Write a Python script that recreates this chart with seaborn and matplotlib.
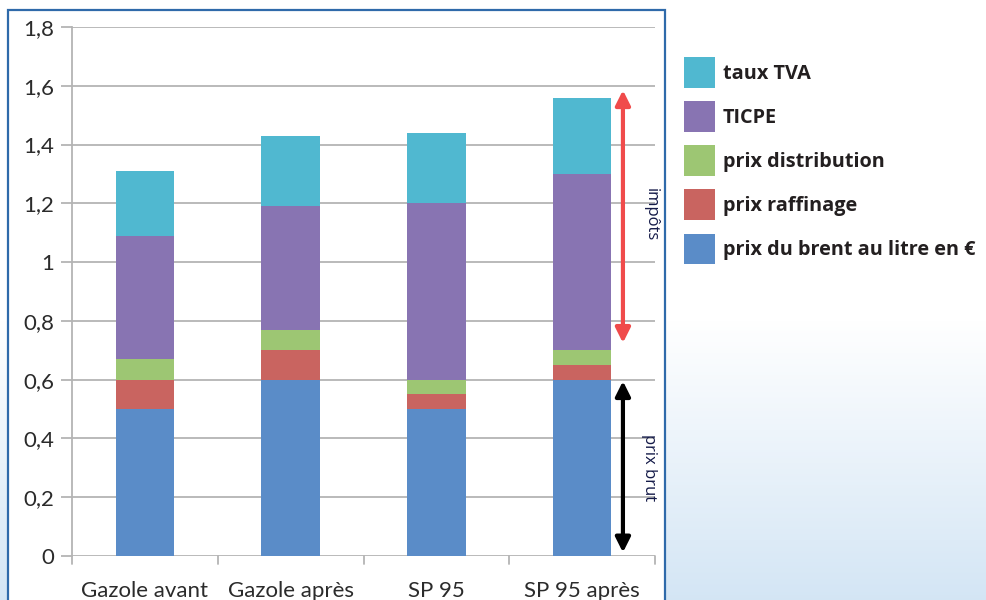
import numpy as np
import pandas as pd
import matplotlib
matplotlib.use("Agg")
import matplotlib.pyplot as plt
import seaborn as sns
from matplotlib.patches import Rectangle, Patch

categories = ["Gazole avant", "Gazole après", "SP 95", "SP 95 après"]
brent = [0.50, 0.60, 0.50, 0.60]
raffinage = [0.10, 0.10, 0.05, 0.05]
distribution = [0.07, 0.07, 0.05, 0.05]
ticpe = [0.42, 0.42, 0.60, 0.60]
tva = [0.22, 0.24, 0.24, 0.26]

series_names = ["prix du brent au litre en €", "prix raffinage", "prix distribution", "TICPE", "taux TVA"]
series_vals = [brent, raffinage, distribution, ticpe, tva]
colors = ["#5a8cc8", "#c96460", "#9dc673", "#8874b2", "#50b8d0"]
y_ticks = [0, 0.2, 0.4, 0.6, 0.8, 1.0, 1.2, 1.4, 1.6, 1.8]
y_labels = ["0", "0,2", "0,4", "0,6", "0,8", "1", "1,2", "1,4", "1,6", "1,8"]

sns.set_theme(style="white")
plt.rcParams["font.family"] = ["Lato", "DejaVu Sans"]

W, H = 986, 600
fig = plt.figure(figsize=(W / 100, H / 100), dpi=100)

# background gradient
bg = fig.add_axes([0, 0, 1, 1], zorder=-10)
grad = np.ones((H, 1, 3))
top = np.array([1.0, 1.0, 1.0])
bot = np.array([0.83, 0.90, 0.96])
for i in range(H):
    t = max(0.0, (i - 320) / (H - 320))
    grad[i, 0] = top * (1 - t) + bot * t
bg.imshow(grad, aspect="auto", extent=[0, 1, 0, 1], origin="upper")
bg.set_axis_off()
bg.add_patch(Rectangle((8 / W, -0.05), (665 - 8) / W, 1 - 10 / H + 0.05,
                       transform=bg.transAxes, facecolor="white", edgecolor="#2f6aaa", lw=1.6))

ax = fig.add_axes([72 / W, 1 - 556 / H, (655 - 72) / W, (556 - 27) / H])
ax.set_facecolor("none")

cum = np.zeros(len(categories))
cums = []
for v in series_vals:
    cum = cum + np.array(v)
    cums.append(cum.copy())
# draw tallest first so lower layers overlay
for name, c, col in reversed(list(zip(series_names, cums, colors))):
    d = pd.DataFrame({"cat": categories, "val": c})
    sns.barplot(data=d, x="cat", y="val", color=col, width=0.4, ax=ax,
                saturation=1, edgecolor="none", linewidth=0, zorder=3)

ax.set_xlim(-0.5, 3.5)
ax.set_ylim(0, 1.8)
ax.set_yticks(y_ticks)
ax.set_yticklabels(y_labels)
ax.set_xlabel("")
ax.set_ylabel("")
ax.grid(axis="y", color="#b4b4b4", lw=1.3, zorder=0)
ax.set_axisbelow(True)
for s in ["top", "right", "bottom"]:
    ax.spines[s].set_visible(False)
ax.spines["left"].set_color("#b4b4b4")
ax.spines["left"].set_linewidth(1.3)
ax.tick_params(axis="y", left=True, length=8, width=1.3, color="#b4b4b4",
               labelsize=16, labelcolor="#2b2b2b", pad=5)
ax.set_xticks([0, 1, 2, 3])
ax.set_xticklabels(categories)
ax.tick_params(axis="x", bottom=False, labelsize=16, labelcolor="#2b2b2b", pad=12)
for xb in [-0.5, 0.5, 1.5, 2.5, 3.5]:
    ax.plot([xb, xb], [0, -0.028], color="#b4b4b4", lw=1.3, clip_on=False, zorder=1)

# annotations
ax.annotate("", xy=(3.28, 1.585), xytext=(3.28, 0.725),
            arrowprops=dict(arrowstyle="<|-|>", color="#f04b4b", lw=3, mutation_scale=22,
                            shrinkA=0, shrinkB=0), zorder=5)
ax.annotate("", xy=(3.28, 0.595), xytext=(3.28, 0.012),
            arrowprops=dict(arrowstyle="<|-|>", color="black", lw=3, mutation_scale=22,
                            shrinkA=0, shrinkB=0), zorder=5)
ax.text(3.47, 1.16, "impôts", rotation=-90, ha="center", va="center",
        fontsize=12, color="#141a48", family=["Open Sans", "DejaVu Sans"])
ax.text(3.46, 0.3, "prix brut", rotation=-90, ha="center", va="center",
        fontsize=12, color="#141a48", family=["Open Sans", "DejaVu Sans"])

handles = [Patch(facecolor=c, edgecolor="none") for c in reversed(colors)]
labels = list(reversed(series_names))
leg = fig.legend(handles, labels, loc="upper left", bbox_to_anchor=(684 / W, 1 - 57 / H),
                 frameon=False, handlelength=1.54, handleheight=1.99,
                 handletextpad=0.4, labelspacing=0.685, borderaxespad=0, borderpad=0,
                 prop={"family": ["Open Sans", "DejaVu Sans"], "weight": "bold", "size": 14.3})
for t in leg.get_texts():
    t.set_color("#231f20")

fig.savefig("out.png", dpi=100)
